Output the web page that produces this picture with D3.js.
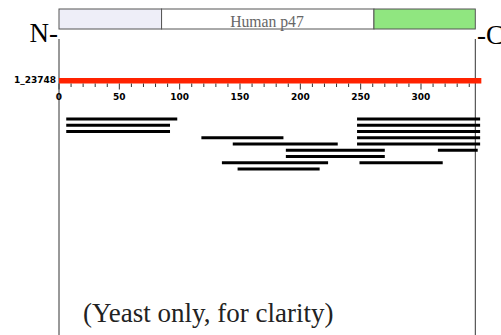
<!DOCTYPE html>
<html>
<meta charset="utf-8">
<head>
  <style>
    body { margin: 0; background: #fff; }
    .tick-label { font-family: "DejaVu Sans", sans-serif; font-weight: bold; font-size: 9px; }
    .serif { font-family: "Liberation Serif", "DejaVu Serif", serif; }
  </style>
  <script src="https://d3js.org/d3.v7.min.js"></script>
</head>
<body>
<svg id="chart" width="501" height="335"></svg>
<script type="text/javascript">

  // protein domains (residue ranges) on the top bar
  var domainStarts = [0, 85, 261];
  var domainEnds = [85, 261, 345];
  var domainColors = ["#eeeef8", "#ffffff", "#90e680"];
  var proteinName = "Human p47";
  var proteinLength = 345;

  // reference sequence (red bar)
  var refName = "1_23748";
  var refLength = 350;

  // aligned hits: start, end, row
  var hitStarts = [6, 247, 6, 247, 6, 247, 118, 247, 144, 247, 188, 314, 188, 135, 249, 148];
  var hitEnds   = [98, 349, 92, 349, 92, 349, 186, 349, 231, 349, 270, 347, 270, 223, 318, 216];
  var hitRows   = [0, 0, 1, 1, 2, 2, 3, 3, 4, 4, 5, 5, 6, 7, 7, 8];

  var tickValues = d3.range(0, 341, 10);
  var tickLabels = [0, 50, 100, 150, 200, 250, 300];

  var svg = d3.select("#chart");
  var x = d3.scaleLinear().domain([0, 300]).range([59, 421]);
  var rowY = d3.scaleLinear().domain([0, 8]).range([119, 169]);

  // domain bar
  var dom = svg.append("g");
  domainStarts.forEach(function(s, i){
    dom.append("rect")
      .attr("x", x(s)).attr("y", 9)
      .attr("width", x(domainEnds[i]) - x(s)).attr("height", 20)
      .attr("fill", domainColors[i]).attr("stroke", "#555").attr("stroke-width", 1);
  });
  svg.append("text").attr("class", "serif")
    .attr("x", 267).attr("y", 26.5).attr("text-anchor", "middle")
    .style("font-size", "15.7px").style("fill", "#666").text(proteinName);

  svg.append("text").attr("class", "serif")
    .attr("x", 58).attr("y", 42).attr("text-anchor", "end")
    .style("font-size", "27px").text("N-");
  svg.append("text").attr("class", "serif")
    .attr("x", 477).attr("y", 44)
    .style("font-size", "27px").text("-C");

  // vertical boundary lines
  [0, proteinLength].forEach(function(v){
    svg.append("line")
      .attr("x1", x(v)).attr("x2", x(v)).attr("y1", 39).attr("y2", 335)
      .attr("stroke", "#333").attr("stroke-width", 1);
  });

  // reference bar
  svg.append("line")
    .attr("x1", x(0)).attr("x2", x(refLength)).attr("y1", 80.7).attr("y2", 80.7)
    .attr("stroke", "#ff2200").attr("stroke-width", 5.5);
  svg.append("text").attr("class", "tick-label")
    .attr("x", 56).attr("y", 82.5).attr("text-anchor", "end").text(refName);

  // ticks
  svg.selectAll(".tk").data(tickValues).enter().append("line")
    .attr("x1", function(d){ return x(d); }).attr("x2", function(d){ return x(d); })
    .attr("y1", 83.5).attr("y2", function(d){ return d % 50 === 0 ? 89.5 : 87; })
    .attr("stroke", "#333").attr("stroke-width", 1);
  svg.selectAll(".tl").data(tickLabels).enter().append("text")
    .attr("class", "tick-label")
    .attr("x", function(d){ return x(d); }).attr("y", 100)
    .attr("text-anchor", "middle").text(function(d){ return d; });

  // hits
  svg.selectAll(".hit").data(hitStarts).enter().append("line")
    .attr("x1", function(d){ return x(d); })
    .attr("x2", function(d, i){ return x(hitEnds[i]); })
    .attr("y1", function(d, i){ return rowY(hitRows[i]); })
    .attr("y2", function(d, i){ return rowY(hitRows[i]); })
    .attr("stroke", "#000").attr("stroke-width", 3);

  svg.append("text").attr("class", "serif")
    .attr("x", 83).attr("y", 322)
    .style("font-size", "27px").style("fill", "#222").text("(Yeast only, for clarity)");

</script>
</body>
</html>
